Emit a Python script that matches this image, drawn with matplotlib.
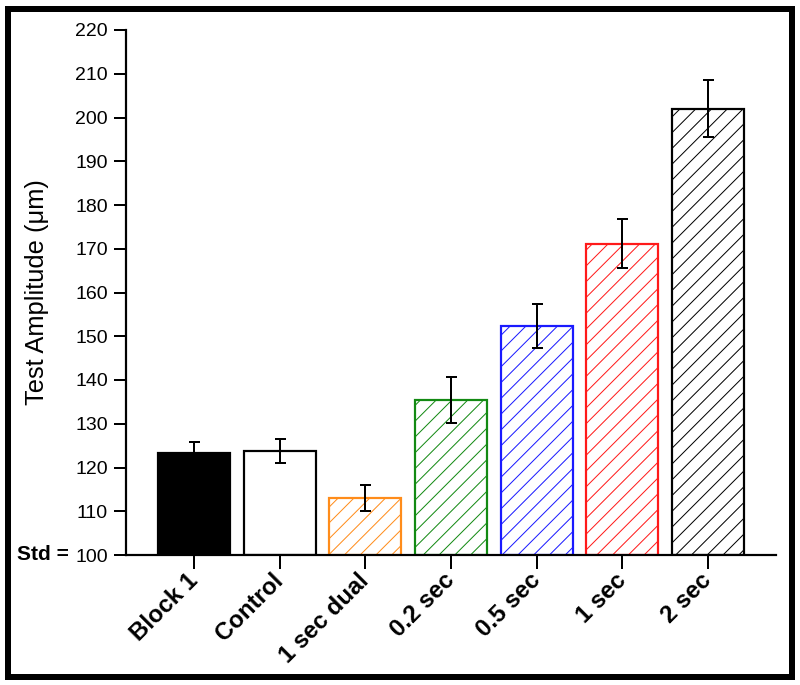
import matplotlib
matplotlib.use("Agg")
import matplotlib.pyplot as plt
from matplotlib.patches import Rectangle

categories = ["Block 1", "Control", "1 sec dual", "0.2 sec", "0.5 sec", "1 sec", "2 sec"]
means = [123.4, 123.8, 113.0, 135.4, 152.3, 171.2, 202.0]
errors = [2.5, 2.7, 2.9, 5.2, 5.0, 5.6, 6.5]
face_colors = ["black", "white", "white", "white", "white", "white", "white"]
edge_colors = ["black", "black", "#ff8c1a", "#138a13", "#1a1aff", "#ff1a1a", "black"]
hatches = [None, None, "///", "///", "///", "///", "///"]
yticks = list(range(100, 221, 10))

DPI = 142
W, H = 800, 685
def pt(px):
    return px * 72.0 / DPI

plt.rcParams['font.family'] = ['Liberation Sans', 'DejaVu Sans']
plt.rcParams['hatch.linewidth'] = pt(1.0)

fig = plt.figure(figsize=(W / DPI, H / DPI), dpi=DPI)
ax = fig.add_axes([126 / W, 1 - 555 / H, (776 - 126) / W, (555 - 30) / H])

x = list(range(len(categories)))
for i in x:
    ax.bar(i, means[i] - 100, bottom=100, width=0.84, color=face_colors[i],
           edgecolor=edge_colors[i], hatch=hatches[i], linewidth=pt(2.2), zorder=2)
ax.errorbar(x, means, yerr=errors, fmt='none', ecolor='black',
            elinewidth=pt(2.0), capsize=pt(5.5), capthick=pt(2.0), zorder=3)

ax.set_xlim(-0.795, 6.795)
ax.set_ylim(100, 220)
ax.set_yticks(yticks)
ax.set_yticklabels([str(v) for v in yticks], fontsize=pt(19.5))
ax.set_xticks(x)
ax.set_xticklabels(categories, rotation=45, ha='right', va='center',
                   rotation_mode='anchor', fontsize=pt(24), fontweight='bold')
ax.tick_params(axis='y', direction='out', length=pt(12), width=pt(2), pad=pt(6))
ax.tick_params(axis='x', direction='out', length=pt(14), width=pt(2), pad=pt(8))
for s in ['top', 'right']:
    ax.spines[s].set_visible(False)
for s in ['left', 'bottom']:
    ax.spines[s].set_linewidth(pt(2.2))

ax.set_ylabel("Test Amplitude (\u03bcm)", fontsize=pt(25.5))
ax.yaxis.set_label_coords((49 - 126) / (776 - 126), 0.5)

fig.text(69 / W, 1 - 555 / H, "Std =", ha='right', va='center',
         fontsize=pt(21), fontweight='bold')

fig.patches.append(Rectangle((8 / W, 1 - 677 / H), (792 - 8) / W, (677 - 9) / H,
                             transform=fig.transFigure, fill=False,
                             edgecolor='black', linewidth=pt(6), zorder=10))

fig.savefig("out.png", dpi=DPI)
